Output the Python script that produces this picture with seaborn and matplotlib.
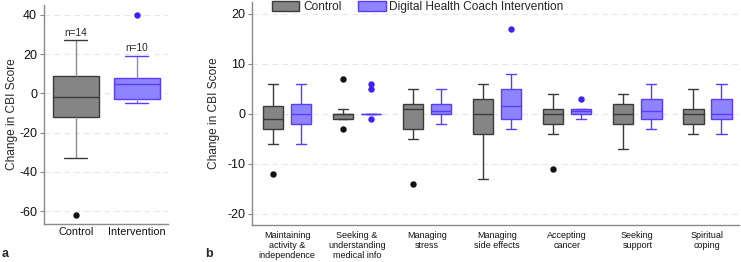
import numpy as np
import pandas as pd
import matplotlib
matplotlib.use("Agg")
import matplotlib.pyplot as plt
from matplotlib.patches import Patch
import seaborn as sns

# ---------------- data ----------------
groups = ["Control", "Intervention"]
legend_labels = ["Control", "Digital Health Coach Intervention"]
n_labels = ["n=14", "n=10"]

# Panel a: total CBI change per participant
total_control = [-62, -33, -20, -12, -12, -8, -3, -1, 4, 9, 9, 15, 20, 27]
total_intervention = [-5, -4, -3, -3, 4, 6, 8, 8, 19, 40]

# Panel b: subscale changes
categories = [
    "Maintaining\nactivity &\nindependence",
    "Seeking &\nunderstanding\nmedical info",
    "Managing\nstress",
    "Managing\nside effects",
    "Accepting\ncancer",
    "Seeking\nsupport",
    "Spiritual\ncoping",
]
sub_control = [
    [-12, -6, -4, -3, -3, -2, -1, -1, 0, 0, 2, 3, 5, 6],
    [-3, -1, -1, -1, -1, 0, 0, 0, 0, 0, 0, 1, 1, 7],
    [-14, -5, -4, -3, -3, -1, 1, 1, 2, 2, 2, 3, 4, 5],
    [-13, -8, -5, -4, -4, -2, 0, 0, 1, 3, 3, 4, 5, 6],
    [-11, -4, -3, -2, -2, -1, 0, 0, 0, 1, 1, 2, 3, 4],
    [-7, -4, -3, -2, -2, -1, 0, 0, 1, 2, 2, 3, 3, 4],
    [-4, -3, -3, -2, -2, -1, 0, 0, 0, 1, 1, 2, 3, 5],
]
sub_intervention = [
    [-6, -3, -2, -2, 0, 0, 2, 2, 4, 6],
    [-1, 0, 0, 0, 0, 0, 0, 0, 5, 6],
    [-2, -1, 0, 0, 0, 1, 2, 2, 3, 5],
    [-3, -2, -1, -1, 1, 2, 5, 5, 8, 17],
    [-1, 0, 0, 0, 0, 1, 1, 1, 1, 3],
    [-3, -2, -1, -1, 0, 1, 3, 3, 5, 6],
    [-4, -2, -1, -1, 0, 0, 3, 3, 4, 6],
]

# ---------------- styling ----------------
fill_colors = {"Control": "#858585", "Intervention": "#8f84ff"}
edge_colors = {"Control": "#3a3a3a", "Intervention": "#5a3cff"}
flier_colors = {"Control": "#111111", "Intervention": "#3a22ff"}
whisker_a = {"Control": "#8c8c8c", "Intervention": "#9080ff"}

sns.set_style("white")
plt.rcParams["font.family"] = ["Liberation Sans", "DejaVu Sans"]
plt.rcParams["axes.unicode_minus"] = False

df_a = pd.DataFrame({
    "group": ["Control"] * len(total_control) + ["Intervention"] * len(total_intervention),
    "value": total_control + total_intervention,
})
rows = []
for cat, c, i in zip(categories, sub_control, sub_intervention):
    rows += [(cat, "Control", v) for v in c]
    rows += [(cat, "Intervention", v) for v in i]
df_b = pd.DataFrame(rows, columns=["category", "group", "value"])

fig = plt.figure(figsize=(7.41, 2.62), dpi=100)
W, H = 741, 262
ax_a = fig.add_axes([44 / W, 1 - 224 / H, (168 - 44) / W, (224 - 5) / H])
ax_b = fig.add_axes([252 / W, 1 - 225 / H, (739 - 252) / W, (225 - 2) / H])


def style_container(cont, g, whisk_col=None):
    ec = edge_colors[g]
    for b in cont.boxes:
        b.set_facecolor(fill_colors[g])
        b.set_edgecolor(ec)
        b.set_linewidth(1.0)
    for m in cont.medians:
        m.set_color(ec)
        m.set_linewidth(1.0)
    for w in cont.whiskers:
        w.set_color(whisk_col if whisk_col else ec)
        w.set_linewidth(1.0)
    for c in cont.caps:
        c.set_color(ec)
        c.set_linewidth(1.0)
    for f in cont.fliers:
        f.set_marker("o")
        f.set_markersize(3.6)
        f.set_markerfacecolor(flier_colors[g])
        f.set_markeredgecolor(flier_colors[g])


# ---------------- panel a ----------------
sns.boxplot(data=df_a, x="group", y="value", hue="group", order=groups,
            hue_order=groups, width=0.75, ax=ax_a, legend=False,
            palette=fill_colors)
for cont, g in zip(ax_a.containers, groups):
    style_container(cont, g, whisker_a[g])

ax_a.set_ylim(-66.6, 45.1)
ax_a.set_xlim(-0.52, 1.51)
ax_a.set_yticks([40, 20, 0, -20, -40, -60])
ax_a.set_xlabel("")
ax_a.set_ylabel("Change in CBI Score", fontsize=8.6, labelpad=1)
ax_a.text(0, max(total_control) + 1.5, n_labels[0], ha="center", va="bottom", fontsize=7.2)
ax_a.text(1, max(v for v in total_intervention if v < 30) + 1.5, n_labels[1],
          ha="center", va="bottom", fontsize=7.2)

# ---------------- panel b ----------------
sns.boxplot(data=df_b, x="category", y="value", hue="group", order=categories,
            hue_order=groups, width=0.8, gap=0.28, ax=ax_b, legend=False,
            palette=fill_colors)
for cont, g in zip(ax_b.containers, groups):
    style_container(cont, g)

ax_b.set_ylim(-22.2, 22.3)
ax_b.set_xlim(-0.5, 6.45)
ax_b.set_yticks([20, 10, 0, -10, -20])
ax_b.set_xlabel("")
ax_b.set_ylabel("Change in CBI Score", fontsize=8.6, labelpad=5)

for ax in (ax_a, ax_b):
    ax.set_axisbelow(True)
    ax.yaxis.grid(True, linestyle=(0, (5, 4)), color="#e6e6e6", linewidth=0.8)
    ax.xaxis.grid(False)
    for s in ("top", "right"):
        ax.spines[s].set_visible(False)
    for s in ("left", "bottom"):
        ax.spines[s].set_color("#8a8a8a")
        ax.spines[s].set_linewidth(1.0)
    ax.tick_params(axis="y", which="both", left=True, length=3, width=0.8,
                   color="#8a8a8a", labelsize=9, pad=2, labelcolor="#111111")
    ax.tick_params(axis="x", bottom=False, length=0, labelcolor="#111111")

ax_a.tick_params(axis="x", labelsize=7.8, pad=2)
ax_b.tick_params(axis="x", labelsize=6.5, pad=4)
for t in ax_b.get_xticklabels():
    t.set_linespacing(1.2)
    t.set_verticalalignment("top")

# legend
handles = [Patch(facecolor=fill_colors[g], edgecolor=edge_colors[g], linewidth=1.0)
           for g in groups]
fig.legend(handles, legend_labels, loc="upper left",
           bbox_to_anchor=(272 / W, 1.0 - 1 / H), ncol=2, frameon=False,
           fontsize=8.6, handlelength=2.3, handleheight=0.85,
           handletextpad=0.3, columnspacing=1.4, borderpad=0.0,
           borderaxespad=0.0)

fig.text(2 / W, 1 - 254 / H, "a", fontsize=9, fontweight="bold", ha="left", va="center")
fig.text(205 / W, 1 - 254 / H, "b", fontsize=9, fontweight="bold", ha="left", va="center")

fig.savefig("out.png", dpi=100)
